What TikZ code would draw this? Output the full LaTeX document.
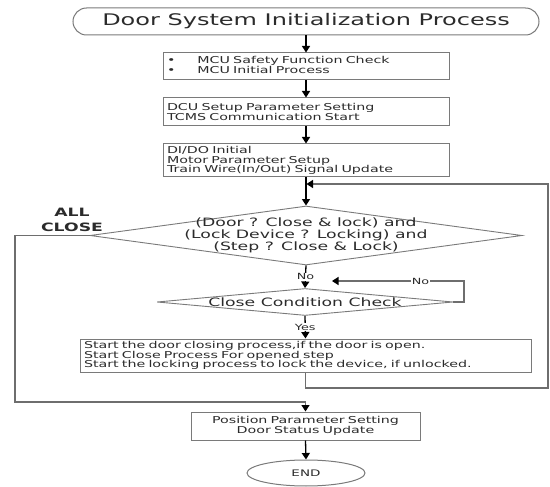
\documentclass[tikz,border=0pt]{standalone}
\usepackage{fontspec}
\setmainfont[FakeStretch=1.5]{DejaVu Sans}
\usetikzlibrary{shapes.geometric,arrows.meta}
\definecolor{lc}{HTML}{6E6E6E}
\definecolor{bc}{HTML}{7A7A7A}
\definecolor{tc}{HTML}{2B2B2B}
\begin{document}
\begin{tikzpicture}[x=1pt,y=-1pt,
  boxnode/.style={draw=bc, line width=1pt, text=tc, inner xsep=4pt, inner ysep=0pt,
    align=left, font=\fontsize{9.5}{9.7}\selectfont},
  dia/.style={shape=diamond, draw=bc, line width=0.9pt, inner sep=0pt},
  dtext/.style={align=center, text=tc, font=\fontsize{11.5}{12}\selectfont, inner sep=0pt},
  lbl/.style={fill=white, text=tc, inner sep=0.8pt, font=\fontsize{8.5}{9}\selectfont},
  arr/.style={draw=black, line width=1.3pt, -{Triangle[length=6.5pt,width=8pt,color=black]}},
  loopline/.style={draw=lc, line width=1.3pt, -{Triangle[length=6.5pt,width=8pt,color=black]}}
]
\useasboundingbox (0,0) rectangle (550,487);

% title
\node[draw=bc, line width=1pt, rounded corners=13.5pt, minimum width=466pt, minimum height=27pt,
  inner sep=0pt, text=tc, font=\fontsize{16}{18}\selectfont] (title) at (306,21.5)
  {Door System Initialization Process};

% boxes
\node[boxnode, text width=278pt, minimum height=27pt] (box1) at (306,66.5)
  {\begin{tabular}{@{}l@{\hspace{22pt}}l@{}}\textbullet & MCU Safety Function Check\\
   \textbullet & MCU Initial Process\end{tabular}};
\node[boxnode, text width=278pt, minimum height=28pt] (box2) at (306,112)
  {DCU Setup Parameter Setting\\TCMS Communication Start};
\node[boxnode, text width=278pt, minimum height=33pt] (box3) at (306,160.5)
  {DI/DO Initial\\Motor Parameter Setup\\Train Wire(In/Out) Signal Update};

% decision 1
\node[dia, minimum width=432pt, minimum height=59pt] (d1) at (306,235.5) {};
\node[dtext] (d1t) at (306,235) {(Door ? Close \& lock) and\\(Lock Device ? Locking) and\\(Step ? Close \& Lock)};

% decision 2
\node[dia, minimum width=296pt, minimum height=27pt] (d2) at (305,302) {};
\node[dtext] (d2t) at (305,302.5) {Close Condition Check};

% task box
\node[boxnode, text width=443pt, minimum height=33pt] (task) at (305.5,355.5)
  {Start the door closing process,if the door is open.\\Start Close Process For opened step\\Start the locking process to lock the device, if unlocked.};

% position box
\node[boxnode, align=center, text width=221pt, minimum height=28pt] (pos) at (305.5,426)
  {Position Parameter Setting\\Door Status Update};

% end
\node[shape=ellipse, draw=bc, line width=1pt, minimum width=118pt, minimum height=26pt,
  inner sep=0pt, text=tc, font=\fontsize{9}{10}\selectfont] (endn) at (306,473) {END};

% ALL CLOSE label
\node[align=center, text=tc, inner sep=0pt, font=\bfseries\fontsize{11.5}{14.5}\selectfont] (allc) at (72,220) {ALL\\CLOSE};

% coordinates
\coordinate (loopB) at (548,388);
\coordinate (loopD) at (306.5,184);
\coordinate (noR) at (464,281);
\coordinate (noEnd) at (332,281);
\coordinate (allB) at (15,402);

% main connectors
\draw[arr] (title.south) -- (box1.north);
\draw[arr] (box1.south) -- (box2.north);
\draw[arr] (box2.south) -- (box3.north);
\draw[arr] (box3.south) -- (d1.north);
\draw[arr] (d1.south) -- node[lbl]{No} (d2.north);
\draw[arr] (d2.south) -- node[lbl]{Yes} (task.north);
\draw[arr] (pos.south) -- (endn.north);

% loops
\draw[loopline] (task.south) |- (loopB) |- (loopD);
\draw[loopline] (d2.east) -| (noR) -- node[lbl, pos=0.33]{No} (noEnd);
\draw[loopline] (d1.west) -| (allB) -| (pos.north);
\end{tikzpicture}
\end{document}
